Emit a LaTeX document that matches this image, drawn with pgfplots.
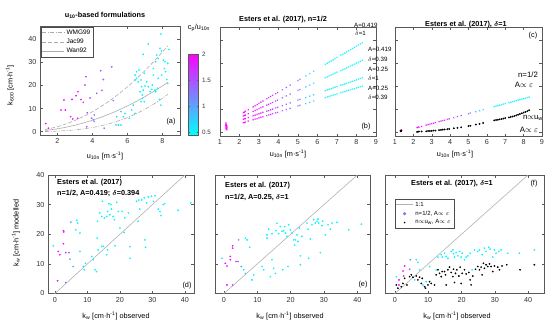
\documentclass[border=0pt]{standalone}
\usepackage{amsmath}
\usepackage{fontspec}
\setmainfont{Liberation Sans}
\usepackage{pgfplots}
\usepackage{pgfplotstable}
\pgfplotsset{compat=1.18}

\pgfplotsset{
  colormap={coolmap}{rgb255=(0,255,255) rgb255=(255,0,255)},
  panel/.style={scale only axis, anchor=south west,
    axis line style={black!65}, tick style={black!65, thin},
    tick align=inside, major tick length=2.5pt,
    ticklabel style={font=\fontsize{7.2}{8}\selectfont, text=black!80},
    /pgf/number format/assume math mode=true,
    point meta min=0.44, point meta max=2},
  sc/.style={scatter, only marks, scatter src=explicit, mark=*, mark size=0.65pt,
    scatter/use mapped color={draw=mapped color, fill=mapped color}},
  scx/.style={scatter, only marks, scatter src=explicit, mark=x, mark size=0.85pt,
    mark options={line width=0.4pt},
    scatter/use mapped color={draw=mapped color, fill=mapped color}},
}

\pgfplotstableread{
x y c
1.33 3.5 2.0
1.48 1.5 2.0
2.20 9.4 1.95
2.45 9.4 1.95
2.37 13.7 1.95
2.75 6.5 1.9
2.87 5.5 1.85
2.83 14.0 1.9
3.06 15.6 1.9
3.17 17.3 1.85
3.34 13.9 1.8
3.48 12.7 1.75
3.16 5.8 1.8
3.57 20.2 1.75
3.63 23.8 1.7
3.70 8.2 1.6
3.67 2.1 1.5
3.95 5.8 1.4
3.86 14.6 1.6
4.10 4.4 1.1
4.05 5.1 1.2
4.10 7.2 1.3
4.24 16.6 1.5
4.47 26.4 1.5
4.54 17.9 1.45
4.62 22.6 1.4
4.67 1.5 1.3
5.10 28.1 1.3
5.19 13.5 1.2
5.34 2.9 0.7
5.48 2.9 0.7
5.63 2.9 0.65
5.38 6.5 0.75
5.63 8.7 0.7
5.76 6.5 0.65
5.86 7.9 0.6
6.10 5.8 0.6
6.24 9.4 0.6
6.43 7.9 0.55
6.33 11.5 0.55
6.43 22.4 0.5
6.52 23.1 0.5
6.62 21.6 0.5
6.43 24.5 0.5
6.52 26.0 0.5
6.66 26.7 0.5
6.77 22.4 0.5
6.81 19.5 0.5
6.90 18.0 0.5
7.00 19.8 0.5
6.71 17.3 0.5
6.85 15.9 0.5
6.85 14.4 0.5
6.96 13.0 0.5
6.77 13.0 0.5
6.90 33.5 0.5
7.19 38.0 0.5
6.96 25.3 0.5
7.10 21.6 0.5
7.19 19.5 0.5
7.29 17.3 0.5
7.38 18.3 0.5
7.42 20.2 0.5
7.48 24.5 0.5
7.48 27.4 0.5
7.61 30.3 0.5
7.67 33.2 0.5
7.76 31.7 0.5
7.57 18.0 0.5
7.61 17.3 0.5
7.72 18.8 0.5
7.82 14.0 0.5
7.91 11.5 0.5
7.91 42.3 0.5
7.86 36.1 0.5
7.95 35.0 0.5
8.05 31.0 0.5
8.14 30.3 0.5
8.18 26.0 0.5
8.30 29.6 0.5
8.37 35.6 0.5
8.24 22.6 0.5
8.30 20.9 0.5
8.10 27.4 0.5
7.95 24.5 0.5
7.76 23.1 0.5
}\atab

\pgfplotstableread{
u s1 s2 s3 s4 c1 c2 m
1.30 4.2 3.6 3.1 2.0 1.0 0.8 2.0
1.32 3.5 2.9 2.5 1.6 0.8 0.6 2.0
1.35 2.8 2.4 2.0 1.3 1.2 0.9 2.0
2.20 8.7 7.2 5.8 4.3 2.2 0.3 1.95
2.25 8.9 7.4 6.0 4.4 2.3 0.4 1.95
2.30 9.3 7.6 6.1 4.6 2.4 0.5 1.95
2.45 10.0 8.2 6.5 5.0 2.7 0.5 1.95
2.70 11.2 9.2 7.3 5.6 3.3 0.6 1.85
2.80 11.7 9.6 7.6 5.9 3.5 0.7 1.85
2.90 12.2 10.0 7.9 6.1 3.7 0.7 1.85
3.00 12.7 10.4 8.2 6.4 3.9 0.8 1.85
3.10 13.2 10.8 8.5 6.6 4.1 0.9 1.85
3.20 13.7 11.2 8.8 6.9 4.4 0.9 1.85
3.40 14.7 11.9 9.3 7.4 4.8 1.1 1.7
3.50 15.2 12.3 9.6 7.7 5.0 1.2 1.7
3.60 15.7 12.7 9.9 7.9 5.2 1.3 1.7
3.70 16.2 13.1 10.2 8.2 5.4 1.4 1.7
3.85 16.9 13.7 10.7 8.6 5.8 1.5 1.6
3.95 17.4 14.1 11.0 8.8 6.0 1.6 1.6
4.20 18.6 15.1 11.7 9.5 6.5 1.9 1.45
4.40 19.6 15.9 12.3 10.0 7.0 2.1 1.45
4.60 20.6 16.7 12.9 10.5 7.4 2.3 1.45
5.00 22.6 18.3 14.1 11.6 8.2 2.8 1.3
5.10 23.1 18.7 14.4 11.8 8.5 3.0 1.3
5.40 24.6 19.8 15.2 12.6 9.1 3.5 0.8
5.60 25.6 20.6 15.8 13.1 9.5 3.8 0.7
5.80 26.6 21.4 16.4 13.7 10.0 4.2 0.65
6.40 29.6 23.8 18.2 15.2 11.3 5.3 0.55
6.50 30.1 24.2 18.5 15.5 11.5 5.5 0.55
6.60 30.6 24.6 18.8 15.7 11.7 5.6 0.55
6.70 31.1 25.0 19.1 16.0 11.9 5.8 0.55
6.80 31.6 25.4 19.4 16.3 12.1 5.9 0.55
6.90 32.1 25.8 19.7 16.5 12.4 6.1 0.55
7.00 32.6 26.2 20.0 16.8 12.6 6.3 0.55
7.20 33.6 26.9 20.6 17.3 13.0 6.6 0.5
7.30 34.0 27.3 20.8 17.6 13.2 6.8 0.5
7.40 34.5 27.7 21.1 17.8 13.4 7.0 0.5
7.50 35.0 28.1 21.4 18.1 13.6 7.2 0.5
7.60 35.5 28.5 21.7 18.3 13.9 7.5 0.5
7.70 36.0 28.9 22.0 18.6 14.1 7.8 0.5
7.80 36.5 29.3 22.3 18.9 14.3 8.1 0.5
7.90 37.0 29.7 22.6 19.1 14.5 8.4 0.5
8.00 37.5 30.1 22.9 19.4 14.7 8.7 0.5
8.10 38.0 30.5 23.2 19.6 14.9 9.0 0.5
8.20 38.5 30.9 23.5 19.9 15.2 9.3 0.5
8.30 39.0 31.3 23.8 20.2 15.4 9.7 0.5
}\btab

\pgfplotstableread{
x y c
0.8 4.3 1.95
3.3 3.7 1.5
1.0 14.2 1.95
1.5 13.1 1.9
2.6 16.8 1.95
2.6 21.2 1.85
2.7 20.8 1.8
3.3 13.8 1.6
4.3 13.8 1.4
4.6 11.6 1.1
4.9 24.1 1.1
5.6 9.1 1.0
-0.5 16.1 0.55
6.7 24.7 0.55
7.0 23.8 0.5
6.4 21.5 0.5
7.7 20.4 0.5
7.7 14.2 0.55
8.7 9.1 0.6
9.0 8.0 0.6
9.4 10.2 0.55
11.3 12.5 0.55
11.8 11.4 0.5
12.3 8.0 0.5
12.8 7.4 0.5
13.0 18.7 0.5
13.1 24.4 0.5
13.8 27.2 0.5
14.4 26.0 0.5
13.3 14.7 0.5
14.4 15.9 0.5
14.9 15.9 0.5
14.6 31.1 0.5
15.2 25.5 0.5
15.9 26.0 0.5
16.2 27.7 0.5
16.6 30.3 0.5
17.2 30.0 0.5
17.4 28.5 0.5
17.9 26.0 0.5
18.3 24.9 0.5
16.9 26.6 0.5
15.9 13.1 0.5
16.2 14.7 0.5
18.5 16.1 0.5
19.0 30.8 0.5
19.5 27.7 0.5
20.0 22.1 0.5
20.7 27.7 0.5
21.3 20.6 0.5
21.5 25.5 0.5
22.6 27.2 0.5
23.1 11.9 0.5
23.1 15.8 0.5
25.1 31.1 0.5
25.6 24.4 0.5
25.8 31.5 0.5
26.1 28.5 0.5
26.7 31.6 0.5
27.5 32.3 0.5
27.7 18.1 0.5
27.9 15.6 0.5
28.2 30.6 0.5
28.7 32.6 0.5
29.7 32.8 0.5
30.3 31.1 0.5
30.8 33.0 0.5
31.8 28.5 0.5
32.3 27.7 0.5
32.6 26.3 0.5
33.3 30.0 0.5
33.8 30.3 0.5
37.9 28.1 0.5
41.8 30.6 0.5
}\dtab

\pgfplotstableread{
x y c
0.9 2.9 1.95
2.6 2.9 1.5
0.4 10.2 1.95
0.9 9.3 1.9
1.9 11.4 1.95
1.9 12.5 1.9
2.6 16.1 1.85
2.6 15.3 1.8
3.6 10.8 1.6
4.4 18.1 1.1
4.2 10.8 1.4
5.2 9.1 1.0
-0.6 11.9 0.55
6.4 18.7 0.55
6.9 18.1 0.5
7.7 15.6 0.55
5.9 8.0 0.6
6.4 6.8 0.6
8.4 4.6 0.6
8.9 6.3 0.55
11.4 9.1 0.5
11.9 8.0 0.5
12.9 19.8 0.5
12.9 18.7 0.5
13.4 21.7 0.5
13.9 5.7 0.5
14.4 11.4 0.5
14.4 20.2 0.5
14.9 8.5 0.5
15.4 6.8 0.5
15.6 21.2 0.5
15.9 23.7 0.5
16.4 20.2 0.5
16.9 22.6 0.5
17.4 21.0 0.5
17.6 8.0 0.5
17.9 21.2 0.5
18.2 22.6 0.5
18.4 20.4 0.5
18.9 19.3 0.5
19.2 9.1 0.5
19.4 23.2 0.5
19.9 21.5 0.5
20.4 20.4 0.5
20.9 18.1 0.5
21.2 16.4 0.5
21.4 18.1 0.5
21.9 19.8 0.5
22.2 17.6 0.5
22.6 22.1 0.5
22.9 12.7 0.5
22.9 9.7 0.5
23.4 19.3 0.5
24.9 23.8 0.5
25.2 21.7 0.5
25.4 11.9 0.5
25.9 18.4 0.5
26.4 23.2 0.5
26.9 24.9 0.5
27.4 23.8 0.5
27.9 24.4 0.5
28.2 25.1 0.5
28.4 23.8 0.5
28.9 13.8 0.5
29.4 22.9 0.5
29.6 24.4 0.5
30.4 19.8 0.5
31.2 23.2 0.5
31.9 21.7 0.5
32.4 23.8 0.5
33.9 24.0 0.5
37.4 21.5 0.5
41.2 23.4 0.5
}\etab

\pgfplotstableread{
x y c
0.4 5.7 0.55
1.2 4.6 1.95
2.4 7.6 1.95
2.6 5.9 1.8
2.9 9.3 1.9
1.2 2.9 1.95
4.6 11.4 1.1
4.4 8.2 1.4
6.4 11.4 0.55
6.9 10.5 0.5
7.4 8.0 0.55
5.9 4.6 0.6
8.4 2.9 0.6
9.4 4.0 0.55
10.4 9.1 0.5
12.4 8.0 0.5
12.9 12.3 0.5
13.9 13.1 0.5
14.2 12.3 0.5
14.9 13.6 0.5
15.4 12.5 0.5
15.9 11.9 0.5
16.9 14.2 0.5
17.4 14.7 0.5
17.6 13.4 0.5
17.9 12.3 0.5
18.4 13.8 0.5
18.9 12.7 0.5
19.4 14.2 0.5
19.9 12.3 0.5
20.2 13.6 0.5
20.9 11.4 0.5
21.4 12.3 0.5
21.9 12.7 0.5
22.6 13.6 0.5
23.2 8.0 0.5
23.9 14.7 0.5
24.9 14.2 0.5
25.4 14.7 0.5
26.2 13.1 0.5
26.9 15.3 0.5
27.4 14.2 0.5
28.2 15.6 0.5
28.6 15.0 0.5
29.4 12.3 0.5
29.9 14.7 0.5
30.4 13.6 0.5
31.2 14.2 0.5
31.9 14.7 0.5
33.9 13.6 0.5
37.4 13.6 0.5
41.9 14.7 0.5
}\ftab

\pgfplotstableread{
x y
0.4 2.9
0.9 1.8
1.9 2.3
2.4 3.4
2.9 5.1
3.6 2.9
4.4 5.7
4.9 6.3
5.4 5.5
6.4 5.9
6.9 4.6
7.4 5.5
7.9 3.4
8.2 5.1
8.9 2.3
9.2 1.8
9.9 2.9
10.4 4.0
10.9 3.4
11.9 2.9
12.4 6.3
12.9 8.0
13.4 6.8
13.9 5.7
14.2 7.4
14.9 7.4
15.2 6.3
15.4 2.9
15.9 8.0
16.4 8.9
16.9 7.1
17.4 5.7
17.6 8.2
17.9 3.7
18.2 6.8
18.6 8.0
19.2 5.9
19.6 8.9
19.9 3.4
20.2 6.8
20.9 8.0
21.4 6.6
22.2 7.1
22.6 4.6
22.9 2.9
23.4 5.9
24.2 8.2
24.9 9.1
25.4 8.0
25.9 8.9
26.2 6.3
26.6 10.2
26.9 8.5
27.4 9.7
27.9 9.1
28.4 10.0
28.9 9.1
29.4 7.4
29.9 9.3
30.9 8.9
31.4 8.0
32.2 9.3
33.6 9.7
37.6 8.0
41.9 9.7
}\fbtab

\newcommand{\fs}{\fontsize{7.3}{8.3}\selectfont}
\newcommand{\fsb}{\fontsize{7.3}{8.3}\selectfont\bfseries}
\newcommand{\fsm}{\fontsize{6.2}{7}\selectfont}

\begin{document}
\begin{tikzpicture}[x=1pt,y=1pt]
\useasboundingbox (0,0) rectangle (550,325);

% ---------------- (a)
\begin{axis}[panel, at={(40pt,190pt)}, width=140pt, height=109pt,
  xmin=1, xmax=9, ymin=-1.45, ymax=45.8,
  xtick={2,4,6,8}, ytick={0,10,20,30,40},
  colorbar,
  colorbar style={at={([xshift=11pt,yshift=11pt]parent axis.south east)}, anchor=south west,
    scale only axis, width=10pt, height=81pt,
    ytick={0.5,1,1.5,2}, major tick length=1.5pt,
    yticklabel style={font=\fontsize{6.3}{7}\selectfont, text=black!80, /pgf/number format/assume math mode=true},
    axis line style={black!65}, tick style={black!65}},
  legend style={at={(0.005,0.995)}, anchor=north west, font=\fontsize{6.5}{7.5}\selectfont,
    draw=black!70, inner sep=1pt, row sep=-0.8pt, cells={anchor=west}},
  legend image code/.code={\draw[#1] (0pt,0pt)--(22pt,0pt);},
]
\addplot[sc, forget plot] table[x=x,y=y,meta=c] {\atab};
\addplot[gray!65, line width=0.6pt, dash pattern=on 4pt off 1.5pt on 1pt off 1.5pt] coordinates {
(1.3,0.06) (1.5,0.10) (2,0.23) (2.5,0.44) (3,0.76) (3.5,1.21) (4,1.81) (4.5,2.58) (5,3.54) (5.5,4.71) (6,6.11) (6.5,7.77) (7,9.71) (7.5,11.94) (8,14.49) (8.3,16.18)};
\addlegendentry{WMG99}
\addplot[gray!65, line width=0.6pt, dash pattern=on 4pt off 2pt] coordinates {
(1.3,0.91) (1.5,1.22) (2,2.16) (2.5,3.38) (3,4.86) (3.5,6.62) (4,8.64) (4.5,10.94) (5,13.5) (5.5,16.34) (6,19.44) (6.5,22.82) (7,26.46) (7.5,30.38) (8,34.56) (8.3,37.2)};
\addlegendentry{Jac99}
\addplot[gray!65, line width=0.6pt] coordinates {
(1.3,0.52) (1.5,0.70) (2,1.24) (2.5,1.94) (3,2.79) (3.5,3.80) (4,4.96) (4.5,6.28) (5,7.75) (5.5,9.38) (6,11.16) (6.5,13.10) (7,15.19) (7.5,17.44) (8,19.84) (8.3,21.36)};
\addlegendentry{Wan92}
\end{axis}

% ---------------- (b)
\begin{axis}[panel, at={(220pt,189pt)}, width=156pt, height=109pt,
  xmin=1, xmax=9, ymin=-1.45, ymax=45.8,
  xtick={1,2,3,4,5,6,7,8,9}, ytick={0,10,20,30,40}, yticklabels={}]
\addplot[scx] table[x=u,y=s1,meta=m] {\btab};
\addplot[scx] table[x=u,y=s2,meta=m] {\btab};
\addplot[scx] table[x=u,y=s3,meta=m] {\btab};
\addplot[scx] table[x=u,y=s4,meta=m] {\btab};
\end{axis}

% ---------------- (c)
\begin{axis}[panel, at={(395pt,189pt)}, width=147pt, height=109pt,
  xmin=1, xmax=9, ymin=-1.45, ymax=45.8,
  xtick={1,2,3,4,5,6,7,8,9}, ytick={0,10,20,30,40}, yticklabels={}]
\addplot[scx] table[x=u,y=c1,meta=m] {\btab};
\addplot[only marks, mark=*, mark size=0.7pt, black] table[x=u,y=c2] {\btab};
\end{axis}

% ---------------- (d)
\begin{axis}[panel, at={(48pt,31.5pt)}, width=146pt, height=118.5pt,
  xmin=-2.15, xmax=42.8, ymin=0, ymax=40,
  xtick={0,10,20,30,40}, ytick={0,10,20,30,40}]
\addplot[gray!60, line width=0.6pt] coordinates {(-5,-5) (50,50)};
\addplot[sc] table[x=x,y=y,meta=c] {\dtab};
\end{axis}

% ---------------- (e)
\begin{axis}[panel, at={(215pt,31.5pt)}, width=155pt, height=118.5pt,
  xmin=-2.7, xmax=43.8, ymin=0, ymax=40,
  xtick={0,10,20,30,40}, ytick={0,10,20,30,40}, yticklabels={}]
\addplot[gray!60, line width=0.6pt] coordinates {(-5,-5) (50,50)};
\addplot[sc] table[x=x,y=y,meta=c] {\etab};
\end{axis}

% ---------------- (f)
\begin{axis}[panel, at={(385pt,31.5pt)}, width=159pt, height=118.5pt,
  xmin=-3, xmax=44.8, ymin=0, ymax=40,
  xtick={0,10,20,30,40}, ytick={0,10,20,30,40}, yticklabels={},
  legend style={at={(0.06,0.80)}, anchor=north west, font=\fontsize{6}{7}\selectfont,
    draw=black!70, inner sep=1pt, row sep=-0.8pt, cells={anchor=west}},
]
\addplot[gray!60, line width=0.6pt] coordinates {(-5,-5) (50,50)};
\addlegendentry{1:1}
\addlegendimage{only marks, mark=*, mark size=1.4pt, color={rgb,255:red,128;green,118;blue,235}}
\addlegendentry{n=1/2, A$\propto\varepsilon$}
\addlegendimage{only marks, mark=*, mark size=0.6pt, black}
\addlegendentry{n$\propto$u\textsubscript{w}, A$\propto\varepsilon$}
\addplot[sc, forget plot] table[x=x,y=y,meta=c] {\ftab};
\addplot[only marks, mark=*, mark size=0.65pt, black, forget plot] table[x=x,y=y] {\fbtab};
\end{axis}

% ---------------- texts
\node[font=\fsb] at (105,310) {u\textsubscript{10}-based formulations};
\node[font=\fs] at (199,297) {c\textsubscript{p}/u\textsubscript{10n}};
\node[font=\fs, rotate=90] at (10,240) {k\textsubscript{600} [cm·h\textsuperscript{-1}]};
\node[font=\fs] at (105,169) {u\textsubscript{10n} [m·s\textsuperscript{-1}]};
\node[font=\fs] at (171,203) {(a)};

\node[font=\fsb] at (283,305) {Esters et al. (2017), n=1/2};
\node[font=\fs] at (288,171) {u\textsubscript{10n} [m·s\textsuperscript{-1}]};
\node[font=\fs] at (366,198) {(b)};
\node[font=\fsm, anchor=west, inner sep=0pt] at (354,300) {A=0.419};
\node[font=\fsm, anchor=west, inner sep=0pt] at (355,292) {$\delta$=1};
\node[font=\fsm, anchor=west, inner sep=0pt] at (368,275.5) {A=0.419};
\node[font=\fsm, anchor=west, inner sep=0pt] at (368,266) {$\delta$=0.39};
\node[font=\fsm, anchor=west, inner sep=0pt] at (368,255.5) {A=0.25};
\node[font=\fsm, anchor=west, inner sep=0pt] at (368,247) {$\delta$=1};
\node[font=\fsm, anchor=west, inner sep=0pt] at (368,236.5) {A=0.25};
\node[font=\fsm, anchor=west, inner sep=0pt] at (368,227.5) {$\delta$=0.39};

\node[font=\fsb] at (466,300.5) {Esters et al. (2017), $\boldsymbol{\delta}$=1};
\node[font=\fs] at (533,289) {(c)};
\node[font=\fs] at (455,171) {u\textsubscript{10n} [m·s\textsuperscript{-1}]};
\node[font=\fontsize{7.8}{8.5}\selectfont] at (528,250) {n=1/2};
\node[font=\fontsize{7.8}{8.5}\selectfont] at (524,240) {A$\propto\varepsilon$};
\node[font=\fontsize{7.8}{8.5}\selectfont] at (533,207) {n$\propto$u\textsubscript{w}};
\node[font=\fontsize{7.8}{8.5}\selectfont] at (529,195) {A$\propto\varepsilon$};

\node[font=\fsb, anchor=west, inner sep=0pt] at (57,142) {Esters et al. (2017)};
\node[font=\fsb, anchor=west, inner sep=0pt] at (57,131.5) {n=1/2, A=0.419; $\boldsymbol{\delta}$=0.394};
\node[font=\fs] at (187,39) {(d)};
\node[font=\fs, rotate=90] at (16,92) {k\textsubscript{w} [cm·h\textsuperscript{-1}] modelled};
\node[font=\fs] at (116,9) {k\textsubscript{w} [cm·h\textsuperscript{-1}] observed};

\node[font=\fsb, anchor=west, inner sep=0pt] at (225,139) {Esters et al. (2017)};
\node[font=\fsb, anchor=west, inner sep=0pt] at (225,128) {n=1/2, A=0.25, $\boldsymbol{\delta}$=1};
\node[font=\fs] at (363,40) {(e)};
\node[font=\fs] at (290,9) {k\textsubscript{w} [cm·h\textsuperscript{-1}] observed};

\node[font=\fsb] at (452,141) {Esters et al. (2017), $\boldsymbol{\delta}$=1};
\node[font=\fs] at (534,141) {(f)};
\node[font=\fs] at (457,9) {k\textsubscript{w} [cm·h\textsuperscript{-1}] observed};
\end{tikzpicture}
\end{document}
